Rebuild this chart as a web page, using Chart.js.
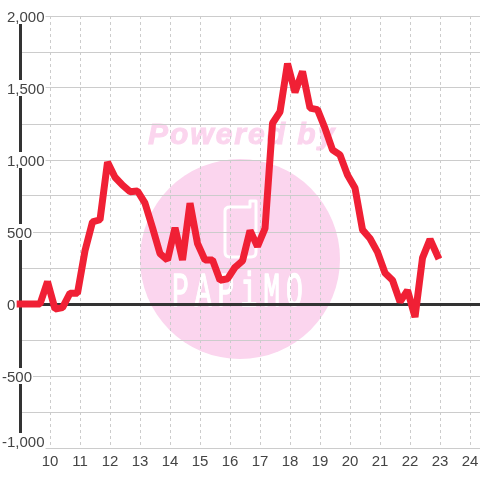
<!DOCTYPE html>
<html>
<head>
<meta charset="utf-8">
<style>
html, body { margin: 0; padding: 0; background: #fff; }
canvas { display: block; }
</style>
<script src="https://cdn.jsdelivr.net/npm/chart.js@4/dist/chart.umd.min.js"></script>
</head>
<body>
<canvas id="profitChart" width="480" height="480"></canvas>
<script>
const hours = [9, 9.667, 9.917, 10.167, 10.417, 10.667, 10.917, 11.167, 11.417, 11.667, 11.917, 12.167, 12.417, 12.667, 12.917, 13.167, 13.417, 13.667, 13.917, 14.167, 14.417, 14.667, 14.917, 15.167, 15.417, 15.667, 15.917, 16.167, 16.417, 16.667, 16.917, 17.167, 17.417, 17.667, 17.917, 18.167, 18.417, 18.667, 18.917, 19.167, 19.417, 19.667, 19.917, 20.167, 20.417, 20.667, 20.917, 21.167, 21.417, 21.667, 21.917, 22.167, 22.417, 22.667, 22.917];
const values = [0, 0, 155, -35, -25, 75, 75, 370, 570, 585, 985, 880, 825, 780, 785, 700, 530, 350, 305, 530, 305, 700, 420, 305, 305, 165, 175, 255, 300, 510, 400, 525, 1255, 1335, 1670, 1470, 1615, 1360, 1350, 1220, 1070, 1035, 895, 805, 515, 455, 360, 215, 165, 15, 95, -90, 320, 450, 335];
const xTicks = [10, 11, 12, 13, 14, 15, 16, 17, 18, 19, 20, 21, 22, 23, 24];
const yLabelValues = [2000, 1500, 1000, 500, 0, -500, -1000];
const yLabels = ['2,000', '1,500', '1,000', '500', '0', '-500', '-1,000'];

const GRID = '#cccccc';
const AXIS = '#333333';
const TEXT = '#444444';
const PINK = '#fbd5ee';

// watermark sits under the grid
const watermark = {
    id: 'watermark',
    beforeDraw(chart) {
        const c = chart.ctx;
        c.save();
        c.fillStyle = '#ffffff';
        c.fillRect(0, 0, 480, 480);
        c.fillStyle = PINK;
        c.beginPath();
        c.arc(240, 259, 100, 0, Math.PI * 2);
        c.fill();
        c.font = 'italic bold 30px "Liberation Sans"';
        c.letterSpacing = '2px';
        c.textAlign = 'left';
        c.textBaseline = 'alphabetic';
        c.strokeStyle = PINK;
        c.lineWidth = 1;
        c.fillText('Powered by', 148, 144);
        c.strokeText('Powered by', 148, 144);

        c.strokeStyle = '#ffffff';
        c.lineWidth = 3;
        c.lineJoin = 'round';
        c.beginPath();
        c.moveTo(256, 201);
        c.lineTo(256, 252);
        c.quadraticCurveTo(256, 257, 251, 257);
        c.lineTo(230, 257);
        c.quadraticCurveTo(225, 257, 225, 252);
        c.lineTo(225, 211);
        c.quadraticCurveTo(225, 207, 230, 207);
        c.lineTo(250, 207);
        c.lineTo(250, 201);
        c.closePath();
        c.stroke();

        c.fillStyle = '#ffffff';
        c.strokeStyle = '#ffffff';
        c.lineWidth = 0.8;
        c.letterSpacing = '6px';
        c.font = '28px "Liberation Mono"';
        c.translate(172, 306);
        c.scale(1, 1.72);
        c.fillText('PAPiMO', 0, 0);
        c.strokeText('PAPiMO', 0, 0);
        c.restore();
    }
};

// y labels start at the same x, the minus hangs to the left, white box behind
const yLabelPlugin = {
    id: 'yLabelPlugin',
    afterDatasetsDraw(chart) {
        const c = chart.ctx;
        const y = chart.scales.y;
        c.save();
        c.font = '15px "Liberation Sans"';
        c.textAlign = 'left';
        c.textBaseline = 'middle';
        yLabelValues.forEach((v, i) => {
            const py = Math.min(y.getPixelForValue(v), y.bottom - 7);
            const txt = yLabels[i];
            const w = c.measureText(txt).width;
            const left = v < 0 ? 2 : 7;
            c.fillStyle = '#ffffff';
            c.fillRect(left, py - 8, w + 1, 16);
            c.fillStyle = TEXT;
            c.fillText(txt, left, py + 2);
        });
        c.restore();
    }
};

new Chart(document.getElementById('profitChart').getContext('2d'), {
    type: 'line',
    data: {
        labels: hours,
        datasets: [{
            data: hours.map((h, i) => ({ x: h, y: values[i] })),
            borderColor: '#f02035',
            borderWidth: 7,
            borderCapStyle: 'square',
            borderJoinStyle: 'bevel',
            pointRadius: 0,
            tension: 0,
            fill: false,
            clip: false
        }]
    },
    options: {
        responsive: false,
        animation: false,
        devicePixelRatio: 1,
        layout: { padding: { left: 20, top: 16, right: 0, bottom: 0 } },
        plugins: { legend: { display: false }, tooltip: { enabled: false } },
        scales: {
            x: {
                type: 'linear',
                min: 9,
                max: 24.333,
                afterBuildTicks(scale) { scale.ticks = xTicks.map(v => ({ value: v })); },
                afterFit(scale) { scale.height = 32; scale.paddingLeft = 0; scale.paddingRight = 0; },
                grid: { color: GRID, lineWidth: 1, drawTicks: false },
                border: { display: false, dash: [3, 3] },
                ticks: {
                    color: TEXT,
                    padding: 5,
                    maxRotation: 0,
                    autoSkip: false,
                    font: { family: '"Liberation Sans"', size: 15 }
                }
            },
            y: {
                min: -1000,
                max: 2000,
                afterFit(scale) { scale.width = 0; },
                grid: {
                    drawTicks: false,
                    color: ctx => ctx.tick.value === 0 ? AXIS : GRID,
                    lineWidth: ctx => ctx.tick.value === 0 ? 3 : 1
                },
                border: { display: true, color: AXIS, width: 3 },
                ticks: { display: false, stepSize: 250 }
            }
        }
    },
    plugins: [watermark, yLabelPlugin]
});
</script>
</body>
</html>
